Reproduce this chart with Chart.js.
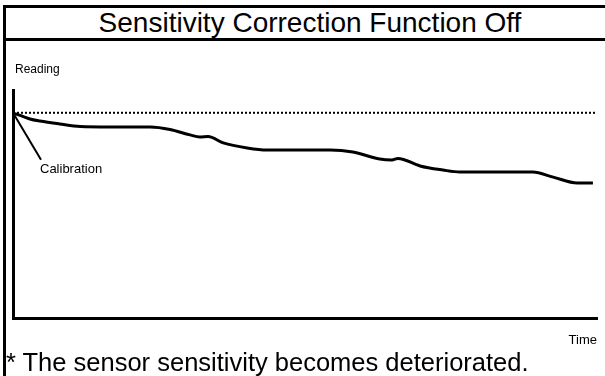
<!DOCTYPE html>
<html>
<head>
<meta charset="utf-8">
<script src="https://cdn.jsdelivr.net/npm/chart.js@4.4.0/dist/chart.umd.min.js"></script>
<style>
  html, body { margin: 0; padding: 0; background: #fff; }
  body { width: 605px; height: 376px; position: relative; overflow: hidden; font-family: Arial, "Liberation Sans", sans-serif; }
  #frame { position: absolute; left: 3px; top: 5px; width: 700px; height: 500px; border-left: 3px solid #000; border-top: 3px solid #000; }
  #sep { position: absolute; left: 3px; top: 38px; width: 700px; height: 3px; background: #000; }
  #title { position: absolute; left: 0; top: 7px; width: 620px; text-align: center; font-size: 28px; line-height: 31px; color: #000; }
  #chartBox { position: absolute; left: 0; top: 0; width: 605px; height: 376px; }
  .lbl { position: absolute; font-size: 12px; color: #000; white-space: nowrap; }
  #note { position: absolute; left: 6px; top: 348px; font-size: 25.5px; line-height: 29px; color: #000; white-space: nowrap; }
</style>
</head>
<body>
<div id="frame"></div>
<div id="sep"></div>
<div id="title">Sensitivity Correction Function Off</div>
<div id="chartBox"><canvas id="chart" width="605" height="376"></canvas></div>
<div class="lbl" style="left:15px; top:62px;">Reading</div>
<div class="lbl" style="right:8px; top:332px; font-size:13px;">Time</div>
<div id="note">* The sensor sensitivity becomes deteriorated.</div>
<script>
// reading at calibration (reference level) and the drifting reading over time
const calibrationLevel = 90;
const timeSteps = [0, 2.9, 4.6, 8.0, 11.5, 16.6, 23.5, 26.9, 30.3, 32.0, 33.4, 36.0, 40.1, 43.5,
                   54.3, 58.2, 62.8, 64.9, 65.9, 69.7, 73.6, 76.5, 89.0, 92.5, 96.6, 99.3];
const readings = [90, 87.3, 86.4, 85.1, 84.0, 83.8, 83.8, 82.7, 80.3, 79.4, 79.6, 76.8, 74.6, 73.7,
                  73.7, 72.8, 69.7, 69.3, 70.0, 66.7, 64.9, 64.0, 64.0, 61.8, 59.2, 59.2];
const calibrationLabel = 'Calibration';

const sensorLine = timeSteps.map((t, i) => ({ x: t, y: readings[i] }));
const referenceLine = [{ x: 0, y: calibrationLevel }, { x: 100, y: calibrationLevel }];

// leader line from the calibration point to its label
const calibrationNote = {
    id: 'calibrationNote',
    afterDatasetsDraw(chart) {
        const ctx = chart.ctx;
        const x0 = chart.scales.x.getPixelForValue(0);
        const y0 = chart.scales.y.getPixelForValue(calibrationLevel);
        ctx.save();
        ctx.strokeStyle = '#000';
        ctx.lineWidth = 2;
        ctx.beginPath();
        ctx.moveTo(x0, y0);
        ctx.lineTo(x0 + 28, y0 + 47);
        ctx.stroke();
        ctx.fillStyle = '#000';
        ctx.font = '13px Arial, "Liberation Sans", sans-serif';
        ctx.textBaseline = 'middle';
        ctx.fillText(calibrationLabel, x0 + 27, y0 + 57);
        ctx.restore();
    }
};

new Chart(document.getElementById('chart'), {
    type: 'line',
    data: {
        datasets: [
            {
                data: referenceLine,
                borderColor: '#000',
                borderWidth: 2,
                borderDash: [2, 2],
                pointRadius: 0
            },
            {
                data: sensorLine,
                borderColor: '#000',
                borderWidth: 3,
                cubicInterpolationMode: 'monotone',
                pointRadius: 0
            }
        ]
    },
    options: {
        responsive: false,
        animation: false,
        layout: { padding: { left: 13, top: 90, right: 8, bottom: 58 } },
        plugins: { legend: { display: false }, tooltip: { enabled: false } },
        scales: {
            x: {
                type: 'linear', min: 0, max: 100,
                ticks: { display: false },
                grid: { display: false, drawTicks: false },
                border: { display: true, color: '#000', width: 3 }
            },
            y: {
                min: 0, max: 100,
                ticks: { display: false },
                grid: { display: false, drawTicks: false },
                border: { display: true, color: '#000', width: 3 }
            }
        }
    },
    plugins: [calibrationNote]
});
</script>
</body>
</html>
